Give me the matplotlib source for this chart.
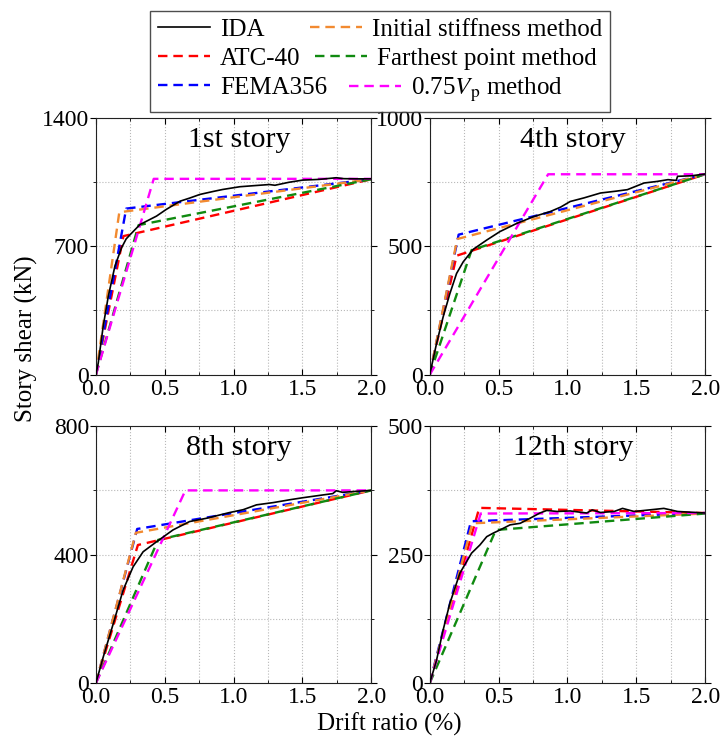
import numpy as np
import matplotlib.pyplot as plt
from matplotlib.ticker import MultipleLocator

plt.rcParams['font.family'] = ['Liberation Serif', 'DejaVu Serif']
plt.rcParams['mathtext.fontset'] = 'stix'

stories = ['1st story', '4th story', '8th story', '12th story']
ymax = [1400, 1000, 800, 500]

# IDA curves (drift %, shear kN)
ida_x = [
    [0, 0.017, 0.053, 0.09, 0.138, 0.186, 0.22, 0.25, 0.32, 0.44, 0.51, 0.61, 0.68, 0.755, 0.85, 0.92,
     1.045, 1.15, 1.26, 1.30, 1.40, 1.50, 1.62, 1.746, 1.80, 1.89, 2.0],
    [0, 0.049, 0.097, 0.146, 0.195, 0.243, 0.316, 0.414, 0.51, 0.633, 0.754, 0.876, 0.95, 1.02, 1.12,
     1.24, 1.35, 1.435, 1.557, 1.65, 1.73, 1.79, 1.80, 1.90, 2.0],
    [0, 0.053, 0.126, 0.198, 0.27, 0.343, 0.44, 0.56, 0.68, 0.80, 0.97, 1.07, 1.166, 1.287, 1.41,
     1.50, 1.60, 1.72, 1.746, 1.79, 1.89, 2.0],
    [0, 0.049, 0.097, 0.146, 0.219, 0.304, 0.365, 0.414, 0.462, 0.51, 0.584, 0.657, 0.73, 0.80, 0.85,
     0.925, 1.02, 1.14, 1.18, 1.24, 1.34, 1.40, 1.484, 1.63, 1.70, 1.80, 2.0],
]
ida_y = [
    [0, 64, 264, 427, 591, 691, 740, 764, 818, 864, 900, 945, 962, 982, 998, 1009,
     1024, 1030, 1036, 1032, 1048, 1060, 1064, 1073, 1068, 1067, 1067],
    [0, 120, 224, 315, 394, 439, 488, 524, 557, 589, 615, 635, 652, 674, 688,
     707, 714, 720, 746, 752, 759, 756, 772, 774, 781],
    [0, 81, 185, 290, 362, 409, 440, 477, 503, 513, 531, 540, 555, 562, 571,
     577, 583, 590, 599, 594, 597, 600],
    [0, 44, 103, 155, 214, 253, 269, 285, 292, 298, 308, 311, 321, 331, 336,
     334, 335, 331, 337, 332, 334, 340, 334, 338, 340, 334, 331],
]

# bilinear idealisations: (origin, yield point, end point)
atc_x = [[0, 0.20, 2.0], [0, 0.195, 2.0], [0, 0.305, 2.0], [0, 0.36, 2.0]]
atc_y = [[0, 755, 1065], [0, 463, 780], [0, 430, 600], [0, 341, 331]]
fema_x = [[0, 0.22, 2.0], [0, 0.21, 2.0], [0, 0.30, 2.0], [0, 0.30, 2.0]]
fema_y = [[0, 905, 1065], [0, 545, 780], [0, 480, 600], [0, 315, 331]]
init_x = [[0, 0.17, 2.0], [0, 0.20, 2.0], [0, 0.29, 2.0], [0, 0.31, 2.0]]
init_y = [[0, 885, 1065], [0, 528, 780], [0, 468, 600], [0, 311, 330]]
far_x = [[0, 0.31, 2.0], [0, 0.304, 2.0], [0, 0.452, 2.0], [0, 0.48, 2.0]]
far_y = [[0, 815, 1065], [0, 485, 780], [0, 446, 600], [0, 298, 330]]
vp_x = [[0, 0.42, 2.0], [0, 0.86, 2.0], [0, 0.65, 2.0], [0, 0.37, 2.0]]
vp_y = [[0, 1067, 1067], [0, 780, 780], [0, 600, 600], [0, 330, 331]]

fig = plt.figure(figsize=(7.21, 7.45), dpi=100)
lefts = [0.133, 0.596, 0.133, 0.596]
bottoms = [0.497, 0.497, 0.083, 0.083]
dash = (4, 2.5)
lw = 1.7

for i in range(4):
    ax = fig.add_axes([lefts[i], bottoms[i], 0.382, 0.345])
    ax.plot(ida_x[i], ida_y[i], color='black', lw=1.2, label='IDA', zorder=5)
    ax.plot(atc_x[i], atc_y[i], color='red', lw=lw, dashes=dash, label='ATC-40')
    ax.plot(fema_x[i], fema_y[i], color='blue', lw=lw, dashes=dash, label='FEMA356')
    ax.plot(init_x[i], init_y[i], color='#f28a30', lw=lw, dashes=dash, label='Initial stiffness method')
    ax.plot(far_x[i], far_y[i], color='#108a10', lw=lw, dashes=dash, label='Farthest point method')
    ax.plot(vp_x[i], vp_y[i], color='#ff00ff', lw=lw, dashes=dash, label=r'0.75$V_\mathrm{p}$ method')
    ax.set_xlim(0, 2.0)
    ax.set_ylim(0, ymax[i])
    ax.xaxis.set_major_locator(MultipleLocator(0.5))
    ax.xaxis.set_minor_locator(MultipleLocator(0.25))
    ax.yaxis.set_major_locator(MultipleLocator(ymax[i] / 2))
    ax.yaxis.set_minor_locator(MultipleLocator(ymax[i] / 4))
    ax.xaxis.set_major_formatter(plt.FuncFormatter(lambda v, p: f'{v:.1f}'))
    ax.yaxis.set_major_formatter(plt.FuncFormatter(lambda v, p: f'{v:.0f}'))
    ax.grid(which='both', color='#b8b8b8', ls=':', lw=0.8)
    ax.tick_params(axis='x', which='both', direction='in', top=True, labelsize=17, pad=3)
    ax.tick_params(axis='y', which='both', direction='out', right=True, labelsize=17, pad=1)
    ax.tick_params(which='major', length=4)
    ax.tick_params(which='minor', length=2.5)
    for s in ax.spines.values():
        s.set_color('#222222')
    ax.text(0.52, 0.965, stories[i], transform=ax.transAxes, ha='center', va='top', fontsize=21.5)
    if i == 0:
        h, l = ax.get_legend_handles_labels()

leg = fig.legend(h, l, ncol=2, loc='upper center',
                 bbox_to_anchor=(0.527, 0.985), fontsize=18, frameon=True, fancybox=False,
                 edgecolor='#222222', handlelength=2.1, columnspacing=-0.7, labelspacing=0.25,
                 borderpad=0.3, handletextpad=0.4, borderaxespad=0)
leg.get_frame().set_linewidth(1.0)
# second legend column is centred in the reference
leg._legend_handle_box.get_children()[1].align = 'center'

fig.text(0.037, 0.545, 'Story shear (kN)', rotation=90, ha='center', va='center', fontsize=18)
fig.text(0.54, 0.02, 'Drift ratio (%)', ha='center', va='baseline', fontsize=18)

fig.savefig('out.png', dpi=100)
